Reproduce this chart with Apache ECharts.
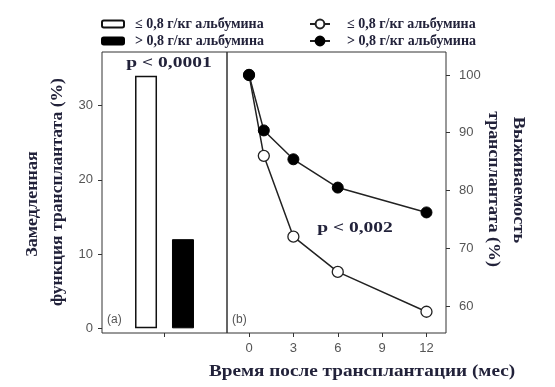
<!DOCTYPE html>
<html><head><meta charset="utf-8">
<script src="https://cdn.jsdelivr.net/npm/echarts@6/dist/echarts.min.js"></script>
<style>html,body{margin:0;padding:0;background:#fff}#c{width:555px;height:387px}</style>
</head><body><div id="c"></div>
<script>
// ---- data ----
const groupNames = ['≤ 0,8 г/кг альбумина', '> 0,8 г/кг альбумина'];
const delayedFunction = [34, 12];            // % (panel a)
const months = [0, 1, 3, 6, 12];
const survivalLow = [100, 86.0, 72.0, 65.9, 59.0];   // ≤ 0,8 (open circles)
const survivalHigh = [100, 90.4, 85.4, 80.5, 76.2];  // > 0,8 (filled circles)
const leftTicks = [0, 10, 20, 30];
const rightTicks = [60, 70, 80, 90, 100];
const monthTicks = [0, 3, 6, 9, 12];
const pA = 'p < 0,0001';
const pB = 'p < 0,002';
const xTitle = 'Время после трансплантации (мес)';
const leftTitle = ['Замедленная', 'функция трансплантата (%)'];
const rightTitle = ['Выживаемость', 'трансплантата (%)'];

const serif = 'Liberation Serif, DejaVu Serif, serif';
const sans = 'Liberation Sans, Arial, sans-serif';
const txt = '#22223a';
const gray = '#555';
const lineNames = groupNames.map(n => n + ' ');

const chart = echarts.init(document.getElementById('c'));
chart.setOption({
  animation: false,
  backgroundColor: '#fff',
  grid: [
    {left: 102, top: 52, width: 125, height: 281, show: true, borderColor: '#333', borderWidth: 1, backgroundColor: 'transparent'},
    {left: 227, top: 52, width: 219, height: 281, show: true, borderColor: '#333', borderWidth: 1, backgroundColor: 'transparent'}
  ],
  legend: [
    {left: 96, top: 12, orient: 'vertical', itemWidth: 22, itemHeight: 7, itemGap: 3,
     data: groupNames, textStyle: {fontFamily: serif, fontWeight: 'bold', fontSize: 14, color: txt, padding: [0,0,0,6]}},
    {left: 304, top: 12, orient: 'vertical', itemWidth: 20, itemHeight: 11, itemGap: 3,
     data: lineNames, textStyle: {fontFamily: serif, fontWeight: 'bold', fontSize: 14, color: txt, padding: [0,0,0,12]}}
  ],
  xAxis: [
    {type: 'category', gridIndex: 0, data: [''], axisLine: {show: false, onZero: false},
     axisTick: {show: true, alignWithLabel: true, length: 4, lineStyle: {color: '#333'}}, axisLabel: {show: false}},
    {type: 'value', gridIndex: 1, min: -1.49, max: 13.32, axisLine: {show: false, onZero: false}, splitLine: {show: false},
     axisTick: {show: true, length: 4, customValues: monthTicks, lineStyle: {color: '#333'}},
     axisLabel: {customValues: monthTicks, color: gray, fontFamily: sans, fontSize: 13, margin: 9}}
  ],
  yAxis: [
    {type: 'value', gridIndex: 0, min: -0.63, max: 37.2, axisLine: {show: false, onZero: false}, splitLine: {show: false},
     axisTick: {show: true, length: 4, customValues: leftTicks, lineStyle: {color: '#333'}},
     axisLabel: {customValues: leftTicks, color: gray, fontFamily: sans, fontSize: 13, margin: 9}},
    {type: 'value', gridIndex: 1, position: 'right', min: 55.32, max: 103.98, axisLine: {show: false, onZero: false}, splitLine: {show: false},
     axisTick: {show: true, length: 4, customValues: rightTicks, lineStyle: {color: '#333'}},
     axisLabel: {customValues: rightTicks, color: gray, fontFamily: sans, fontSize: 13, margin: 13}}
  ],
  series: [
    {type: 'bar', name: groupNames[0], xAxisIndex: 0, yAxisIndex: 0, data: [delayedFunction[0]], barWidth: 22, barGap: '68%',
     itemStyle: {color: '#fff', borderColor: '#111', borderWidth: 1.5}},
    {type: 'bar', name: groupNames[1], xAxisIndex: 0, yAxisIndex: 0, data: [delayedFunction[1]], barWidth: 22,
     itemStyle: {color: '#000', borderColor: '#000', borderWidth: 1}},
    {type: 'line', name: lineNames[0], xAxisIndex: 1, yAxisIndex: 1, data: months.map((m, i) => [m, survivalLow[i]]),
     symbol: 'circle', symbolSize: 11, lineStyle: {color: '#222', width: 1.5},
     itemStyle: {color: '#fff', borderColor: '#222', borderWidth: 1.3}},
    {type: 'line', name: lineNames[1], xAxisIndex: 1, yAxisIndex: 1, data: months.map((m, i) => [m, survivalHigh[i]]),
     symbol: 'circle', symbolSize: 11, lineStyle: {color: '#222', width: 1.5},
     itemStyle: {color: '#000', borderColor: '#000', borderWidth: 1}}
  ],
  graphic: [
    {type: 'text', x: 169, y: 63, scaleX: 1.3, style: {text: pA, fill: txt, font: 'bold 15px ' + serif, textAlign: 'center', textVerticalAlign: 'middle'}},
    {type: 'text', x: 355, y: 228, scaleX: 1.3, style: {text: pB, fill: txt, font: 'bold 15px ' + serif, textAlign: 'center', textVerticalAlign: 'middle'}},
    {type: 'text', x: 107, y: 320, style: {text: '(a)', fill: gray, font: '12px ' + sans, textAlign: 'left', textVerticalAlign: 'middle'}},
    {type: 'text', x: 232, y: 320, style: {text: '(b)', fill: gray, font: '12px ' + sans, textAlign: 'left', textVerticalAlign: 'middle'}},
    {type: 'text', x: 362, y: 372, scaleX: 1.13, style: {text: xTitle, fill: txt, font: 'bold 17px ' + serif, textAlign: 'center', textVerticalAlign: 'middle'}},
    {type: 'text', x: 33, y: 204, rotation: Math.PI / 2, scaleX: 1.13, style: {text: leftTitle[0], fill: txt, font: 'bold 16px ' + serif, textAlign: 'center', textVerticalAlign: 'middle'}},
    {type: 'text', x: 58, y: 192, rotation: Math.PI / 2, scaleX: 1.1, style: {text: leftTitle[1], fill: txt, font: 'bold 16px ' + serif, textAlign: 'center', textVerticalAlign: 'middle'}},
    {type: 'text', x: 518, y: 180, rotation: -Math.PI / 2, scaleX: 1.15, style: {text: rightTitle[0], fill: txt, font: 'bold 16px ' + serif, textAlign: 'center', textVerticalAlign: 'middle'}},
    {type: 'text', x: 493, y: 189, rotation: -Math.PI / 2, scaleX: 1.12, style: {text: rightTitle[1], fill: txt, font: 'bold 16px ' + serif, textAlign: 'center', textVerticalAlign: 'middle'}}
  ]
});
</script></body></html>
